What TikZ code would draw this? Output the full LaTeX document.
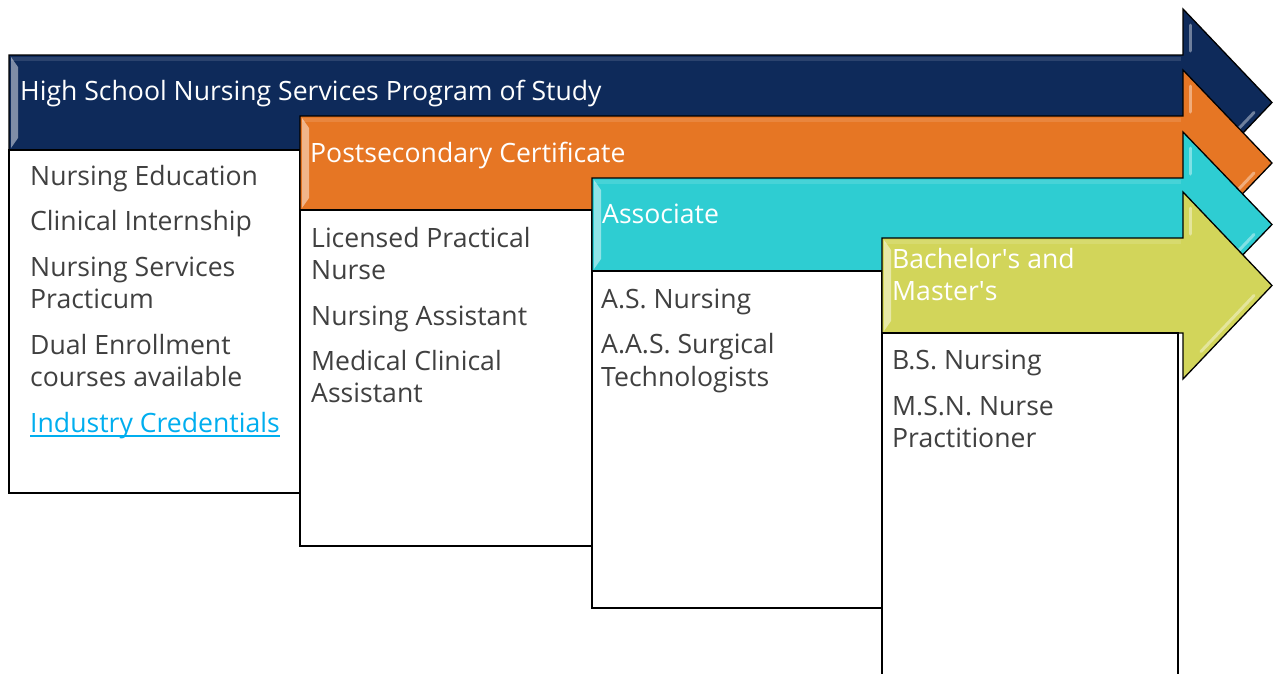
\documentclass[tikz,border=0pt]{standalone}
\usepackage{fontspec}
\setmainfont{Open Sans}
\definecolor{navy}{HTML}{0E2A5A}
\definecolor{orng}{HTML}{E67624}
\definecolor{cyn}{HTML}{2ECDD2}
\definecolor{ylw}{HTML}{D2D55A}
\definecolor{txtgray}{HTML}{404040}
\definecolor{linkblue}{HTML}{00AEEF}
\tikzset{
  hdr/.style={anchor=base west, inner sep=0pt, text=white, font=\fontsize{26.6}{32}\selectfont},
  itm/.style={anchor=base west, inner sep=0pt, text=txtgray, font=\fontsize{26.6}{32}\selectfont},
  lnk/.style={anchor=base west, inner sep=0pt, text=linkblue, font=\fontsize{26.6}{32}\selectfont},
  boxframe/.style={draw=black, line width=1.5pt, fill=white},
  arrowframe/.style={draw=black, line width=1.3pt, line join=miter},
  hilite/.style={white, opacity=0.4, line width=3pt, line cap=round},
}
\newcommand\garrow[4]{%
  \pgfmathsetmacro\hT{#2-46}%
  \pgfmathsetmacro\hB{#3+46}%
  \pgfmathsetmacro\tipY{(#2+#3)/2}%
  \draw[arrowframe, fill=#4] (#1,#2) -- (1183,#2) -- (1183,\hT) -- (1272,\tipY)
     -- (1183,\hB) -- (1183,#3) -- (#1,#3) -- cycle;
  \fill[#4!45!white, opacity=0.85] (#1+2,#2+2) -- (#1+9,#2+12) -- (#1+9,#3-12) -- (#1+2,#3-2) -- cycle;
  \fill[white, opacity=0.12] (#1+2,#2+2) -- (1181,#2+2) -- (1181,#2+6) -- (#1+2,#2+6) -- cycle;
  \draw[hilite] (1190,\hT+16) -- (1190,#2-4);
  \draw[hilite] (1254,\tipY+10) -- (1201,\tipY+66);
}
\begin{document}
\begin{tikzpicture}[x=1pt,y=-1pt]
\clip (0,0) rectangle (1276,673);
\fill[white] (0,0) rectangle (1276,673);

% ---- stage 1
\garrow{9}{55}{150}{navy}
\draw[boxframe] (9,150) rectangle (300,493);
\node[hdr] (h1) at (20,100) {High School Nursing Services Program of Study};
\node[itm] (a1) at (30,185) {Nursing Education};
\node[itm] (a2) at (30,230) {Clinical Internship};
\node[itm] (a3) at (30,276) {Nursing Services};
\node[itm] (a4) at (30,308) {Practicum};
\node[itm] (a5) at (30,354) {Dual Enrollment};
\node[itm] (a6) at (30,386) {courses available};
\node[lnk] (a7) at (30,432) {Industry Credentials};
\draw[linkblue, line width=1.3pt] ([yshift=-4pt]a7.base west) -- ([yshift=-4pt]a7.base east);

% ---- stage 2
\garrow{300}{116}{210}{orng}
\draw[boxframe] (300,210) rectangle (592,546);
\node[hdr] (h2) at (310,162) {Postsecondary Certificate};
\node[itm] (b1) at (311,247) {Licensed Practical};
\node[itm] (b2) at (311,279) {Nurse};
\node[itm] (b3) at (311,325) {Nursing Assistant};
\node[itm] (b4) at (311,370) {Medical Clinical};
\node[itm] (b5) at (311,402) {Assistant};

% ---- stage 3
\garrow{592}{178}{271}{cyn}
\draw[boxframe] (592,271) rectangle (882,608);
\node[hdr] (h3) at (602,223) {Associate};
\node[itm] (c1) at (601,308) {A.S. Nursing};
\node[itm] (c2) at (601,353) {A.A.S. Surgical};
\node[itm] (c3) at (601,386) {Technologists};

% ---- stage 4
\garrow{882}{238}{333}{ylw}
\draw[boxframe] (882,333) rectangle (1178,690);
\node[hdr] (h4a) at (892,268) {Bachelor\textquotesingle s and};
\node[hdr] (h4b) at (892,300) {Master\textquotesingle s};
\node[itm] (d1) at (892,369) {B.S. Nursing};
\node[itm] (d2) at (892,415) {M.S.N. Nurse};
\node[itm] (d3) at (892,447) {Practitioner};
\end{tikzpicture}
\end{document}
